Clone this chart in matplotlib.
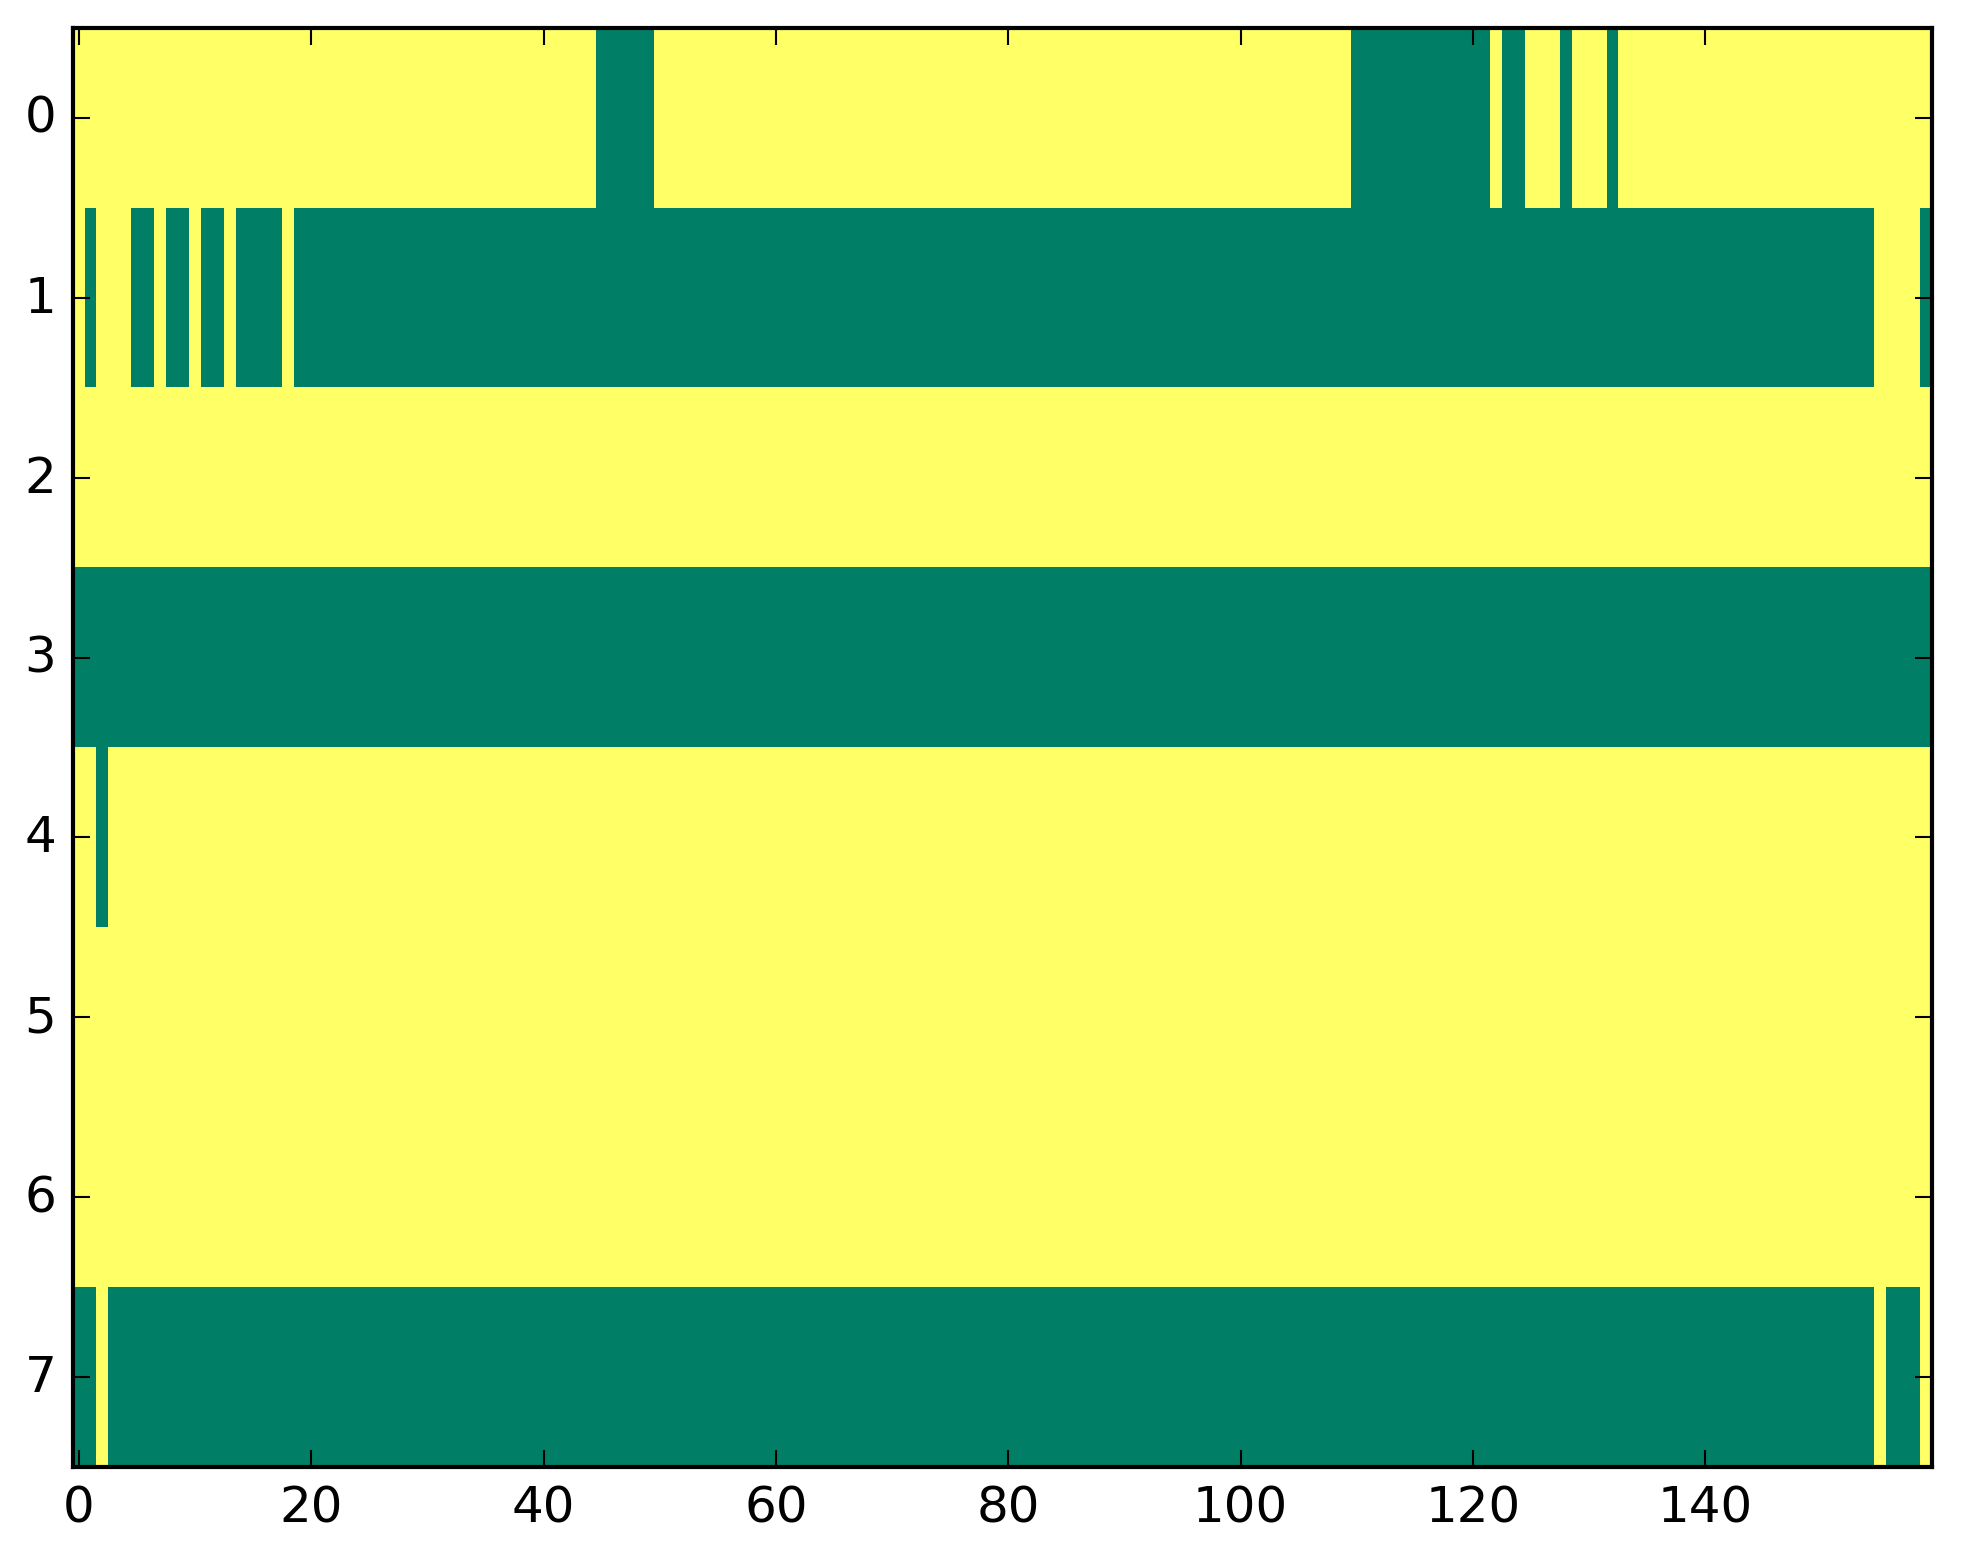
import numpy as np
import matplotlib.pyplot as plt

plt.style.use('classic')

# each row as (value, run length) pairs; 1 = yellow, 0 = green
row0 = [(1, 45), (0, 5), (1, 60), (0, 12), (1, 1), (0, 2), (1, 3), (0, 1), (1, 3), (0, 1), (1, 27)]
row1 = [(1, 1), (0, 1), (1, 3), (0, 2), (1, 1), (0, 2), (1, 1), (0, 2), (1, 1), (0, 4), (1, 1),
        (0, 136), (1, 4), (0, 1)]
row2 = [(1, 160)]
row3 = [(0, 160)]
row4 = [(1, 2), (0, 1), (1, 157)]
row5 = [(1, 160)]
row6 = [(1, 160)]
row7 = [(0, 2), (1, 1), (0, 152), (1, 1), (0, 3), (1, 1)]

rows = [row0, row1, row2, row3, row4, row5, row6, row7]
data = np.array([np.concatenate([np.full(n, v) for v, n in r]) for r in rows], dtype=float)

fig = plt.figure(figsize=(1963/300, 1564/300), dpi=300, facecolor='white')
ax = fig.add_axes([73/1963, 1-1468/1564, (1932-73)/1963, (1468-29)/1564])
ax.imshow(data, cmap='summer', aspect='auto', interpolation='nearest', vmin=0, vmax=1)
ax.set_xticks(np.arange(0, 160, 20))
ax.set_yticks(np.arange(0, 8))
ax.tick_params(labelsize=12)

fig.savefig('out.png', dpi=300, facecolor='white')
